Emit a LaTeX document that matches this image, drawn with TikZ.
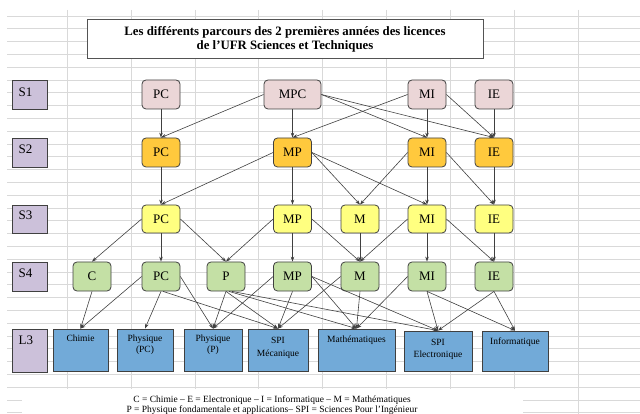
\documentclass[tikz,border=0pt]{standalone}
\usepackage{fontspec}
\setmainfont{Liberation Serif}
\usetikzlibrary{arrows.meta}
\definecolor{gridc}{HTML}{D9D9D9}
\definecolor{sone}{HTML}{EBD6D7}
\definecolor{stwo}{HTML}{FFC93D}
\definecolor{sthree}{HTML}{FFFF80}
\definecolor{sfour}{HTML}{C4E0A5}
\definecolor{lthree}{HTML}{72AAD8}
\definecolor{lev}{HTML}{CCC1DA}
\definecolor{edgec}{HTML}{404040}
\begin{document}
\begin{tikzpicture}[x=1pt,y=-1pt,
  nbox/.style={draw=edgec, line width=0.8pt, rounded corners=4pt, minimum width=38pt, minimum height=29pt, inner sep=0pt, font=\fontsize{13}{15}\selectfont},
  levbox/.style={draw=edgec, fill=lev, line width=0.8pt, minimum width=35pt, inner sep=0pt},
  levtext/.style={anchor=base west, inner sep=0pt, font=\fontsize{13}{15}\selectfont},
  lbox/.style={draw=edgec, fill=lthree, line width=0.8pt, inner sep=0pt},
  ltext/.style={anchor=base, inner sep=0pt, font=\fontsize{9.5}{11}\selectfont},
  legtext/.style={anchor=base, inner sep=0pt, font=\fontsize{9.5}{11}\selectfont},
  arr/.style={draw=edgec, line width=0.6pt, -{Stealth[length=5pt,width=3.5pt]}},
]
\useasboundingbox (0,0) rectangle (640,414);
% grid
\foreach \k in {0,...,31} \draw[gridc, line width=0.8pt] (7,{16+12.8*\k}) -- (640,{16+12.8*\k});
\foreach \x in {67,131,195,258,322,386,450,514,578} \draw[gridc, line width=0.8pt] (\x,10) -- (\x,414);
\fill[white] (22,388.5) rectangle (523,414);

% title
\node[draw=edgec!90, fill=white, line width=0.8pt, minimum width=396pt, minimum height=39pt, inner sep=0pt] (title) at (285,38.5) {};
\node[anchor=base, inner sep=0pt, font=\bfseries\fontsize{12.8}{14}\selectfont] (titleA) at (285,36) {Les différents parcours des 2 premières années des licences};
\node[anchor=base, inner sep=0pt, font=\bfseries\fontsize{12.8}{14}\selectfont] (titleB) at (285,49.5) {de l’UFR Sciences et Techniques};

% level labels
\node[levbox, minimum height=29pt] (lvA) at (29.5,94.5) {};
\node[levbox, minimum height=29pt] (lvB) at (29.5,152.5) {};
\node[levbox, minimum height=28pt] (lvC) at (29.5,219) {};
\node[levbox, minimum height=29pt] (lvD) at (29.5,276.5) {};
\node[levbox, minimum height=43pt] (lvE) at (29.5,350.5) {};
\node[levtext] (lvAt) at (18.5,96.5) {S1};
\node[levtext] (lvBt) at (18.5,153.5) {S2};
\node[levtext] (lvCt) at (18.5,219.5) {S3};
\node[levtext] (lvDt) at (18.5,277) {S4};
\node[levtext] (lvEt) at (18.5,344.5) {L3};

% S1
\node[nbox, fill=sone] (s1pc) at (161,94.5) {PC};
\node[nbox, fill=sone, minimum width=57pt] (s1mpc) at (292.5,94.5) {MPC};
\node[nbox, fill=sone] (s1mi) at (427,94.5) {MI};
\node[nbox, fill=sone] (s1ie) at (494,94.5) {IE};
% S2
\node[nbox, fill=stwo] (s2pc) at (161,152.5) {PC};
\node[nbox, fill=stwo] (s2mp) at (292.5,152.5) {MP};
\node[nbox, fill=stwo] (s2mi) at (427,152.5) {MI};
\node[nbox, fill=stwo] (s2ie) at (494,152.5) {IE};
% S3
\node[nbox, fill=sthree, minimum height=28pt] (s3pc) at (161,219) {PC};
\node[nbox, fill=sthree, minimum height=28pt] (s3mp) at (292.5,219) {MP};
\node[nbox, fill=sthree, minimum height=28pt] (s3m) at (360,219) {M};
\node[nbox, fill=sthree, minimum height=28pt] (s3mi) at (427,219) {MI};
\node[nbox, fill=sthree, minimum height=28pt] (s3ie) at (494,219) {IE};
% S4
\node[nbox, fill=sfour] (s4c) at (92,276.5) {C};
\node[nbox, fill=sfour] (s4pc) at (161,276.5) {PC};
\node[nbox, fill=sfour] (s4p) at (226,276.5) {P};
\node[nbox, fill=sfour] (s4mp) at (292.5,276.5) {MP};
\node[nbox, fill=sfour] (s4m) at (360,276.5) {M};
\node[nbox, fill=sfour] (s4mi) at (427,276.5) {MI};
\node[nbox, fill=sfour] (s4ie) at (494,276.5) {IE};
% L3
\node[lbox, minimum width=55pt, minimum height=42pt] (lch) at (80.5,350) {};
\node[lbox, minimum width=56pt, minimum height=42pt] (lppc) at (145,350) {};
\node[lbox, minimum width=58pt, minimum height=42pt] (lpp) at (213,350) {};
\node[lbox, minimum width=60pt, minimum height=42pt] (lspim) at (278,350) {};
\node[lbox, minimum width=77pt, minimum height=42pt] (lmath) at (356.5,350) {};
\node[lbox, minimum width=68pt, minimum height=40pt] (lspie) at (438,351) {};
\node[lbox, minimum width=66pt, minimum height=40pt] (linfo) at (515,351) {};
\node[ltext] (lchA) at (80.5,341.7) {Chimie};
\node[ltext] (lppcA) at (145,341.7) {Physique};
\node[ltext] (lppcB) at (145,352.5) {(PC)};
\node[ltext] (lppA) at (213,341.7) {Physique};
\node[ltext] (lppB) at (213,352.5) {(P)};
\node[ltext] (lspimA) at (278,343) {SPI};
\node[ltext] (lspimB) at (278,356) {Mécanique};
\node[ltext] (lmathA) at (356.5,342) {Mathématiques};
\node[ltext] (lspieA) at (438,345.5) {SPI};
\node[ltext] (lspieB) at (438,357.7) {Electronique};
\node[ltext] (linfoA) at (515,344) {Informatique};

% legend
\node[legtext] (legA) at (272,402) {C = Chimie – E = Electronique – I = Informatique – M = Mathématiques};
\node[legtext] (legB) at (272,412) {P = Physique fondamentale et applications– SPI = Sciences Pour l’Ingénieur};

% S1 -> S2
\draw[arr] (s1pc) -- (s2pc);
\draw[arr] (s1mpc.west) -- (s2pc.north);
\draw[arr] (s1mpc) -- (s2mp);
\draw[arr] (s1mpc.east) -- (s2mi.north);
\draw[arr] (s1mpc.east) -- (s2ie.north);
\draw[arr] (s1mi.west) -- (s2mp.north);
\draw[arr] (s1mi) -- (s2mi);
\draw[arr] (s1mi.east) -- (s2ie.north);
\draw[arr] (s1ie) -- (s2ie);
% S2 -> S3
\draw[arr] (s2pc) -- (s3pc);
\draw[arr] (s2mp.west) -- (s3pc.north);
\draw[arr] (s2mp) -- (s3mp);
\draw[arr] (s2mp.east) -- (s3m.north);
\draw[arr] (s2mp.east) -- (s3mi.north);
\draw[arr] (s2mi.west) -- (s3m.north);
\draw[arr] (s2mi) -- (s3mi);
\draw[arr] (s2mi.east) -- (s3ie.north);
\draw[arr] (s2ie) -- (s3ie);
% S3 -> S4
\draw[arr] (s3pc.west) -- (s4c.north);
\draw[arr] (s3pc) -- (s4pc);
\draw[arr] (s3pc.east) -- (s4p.north);
\draw[arr] (s3mp.west) -- (s4p.north);
\draw[arr] (s3mp) -- (s4mp);
\draw[arr] (s3mp.east) -- (s4m.north);
\draw[arr] (s3m) -- (s4m);
\draw[arr] (s3mi.west) -- (s4m.north);
\draw[arr] (s3mi) -- (s4mi);
\draw[arr] (s3mi.east) -- (s4ie.north);
\draw[arr] (s3ie) -- (s4ie);
% S4 -> L3
\draw[arr] (s4c.south) -- (lch.north);
\draw[arr] (s4pc.west) -- (lch.north);
\draw[arr] (s4pc.south) -- (lppc.north);
\draw[arr] (s4pc.east) -- (lpp.north);
\draw[arr] ([xshift=2pt]s4pc.south) -- (lspim.north);
\draw[arr] (s4p.south) -- (lpp.north);
\draw[arr] (s4p.south) -- (lspim.north);
\draw[arr] ([xshift=3pt]s4p.south) -- (lmath.north);
\draw[arr] ([xshift=6pt]s4p.south) -- (lspie.north);
\draw[arr] (s4mp.west) -- (lpp.north);
\draw[arr] (s4mp.south) -- (lspim.north);
\draw[arr] (s4mp.east) -- (lmath.north);
\draw[arr] (s4mp.east) -- (lspie.north);
\draw[arr] (s4m.west) -- (lspim.north);
\draw[arr] (s4m.south) -- (lmath.north);
\draw[arr] (s4mi.west) -- (lmath.north);
\draw[arr] (s4mi.south) -- (lspie.north);
\draw[arr] (s4mi.south) -- (linfo.north);
\draw[arr] (s4ie.south) -- (lspie.north);
\draw[arr] (s4ie.south) -- (linfo.north);
\end{tikzpicture}
\end{document}
